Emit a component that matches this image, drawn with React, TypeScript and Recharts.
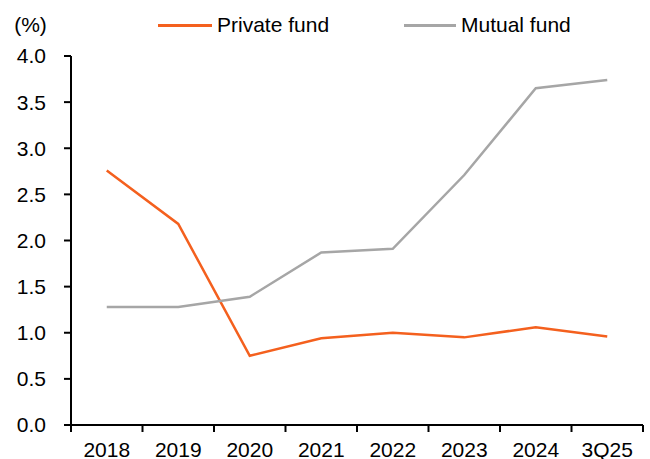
import React from "react";
import { LineChart, Line, XAxis, YAxis, Legend, ReferenceLine } from "recharts";

const categories = ["2018", "2019", "2020", "2021", "2022", "2023", "2024", "3Q25"];
const privateFund = [2.76, 2.18, 0.75, 0.94, 1.0, 0.95, 1.06, 0.96];
const mutualFund = [1.28, 1.28, 1.39, 1.87, 1.91, 2.71, 3.65, 3.74];
const yTicks = [0, 0.5, 1, 1.5, 2, 2.5, 3, 3.5, 4];

const data = categories.map((c, i) => ({
  x: i + 0.5,
  name: c,
  privateFund: privateFund[i],
  mutualFund: mutualFund[i],
}));
const boundaryTicks = categories.map((_, i) => i).concat([categories.length]);
const centerTicks = categories.map((_, i) => i + 0.5);

const FONT = "Arial, 'Liberation Sans', sans-serif";
const FS = 21;
const ORANGE = "#F4601E";
const GRAY = "#A6A6A6";

const LegendContent = () => (
  <div style={{ position: "relative", height: 30, width: 650, fontFamily: FONT, fontSize: FS, color: "#000" }}>
    <div style={{ position: "absolute", left: 158, top: 0, height: 30, display: "flex", alignItems: "center" }}>
      <div style={{ width: 54, height: 3, background: ORANGE, marginRight: 5 }} />
      <span>Private fund</span>
    </div>
    <div style={{ position: "absolute", left: 404, top: 0, height: 30, display: "flex", alignItems: "center" }}>
      <div style={{ width: 52, height: 3, background: GRAY, marginRight: 5 }} />
      <span>Mutual fund</span>
    </div>
  </div>
);

const EmptyTick = () => <g />;

export default function App() {
  return (
    <div style={{ position: "absolute", left: 0, top: 0, width: 650, height: 459, background: "#fff" }}>
      <LineChart width={650} height={459} data={data} margin={{ top: 26, right: 7, left: 0, bottom: 0 }}>
        <Legend
          verticalAlign="top"
          content={<LegendContent />}
          wrapperStyle={{ top: 10, left: 0, width: 650, height: 30 }}
        />
        <XAxis
          xAxisId="a"
          dataKey="x"
          type="number"
          domain={[0, 8]}
          ticks={boundaryTicks}
          tick={<EmptyTick />}
          tickSize={7}
          height={1}
          interval={0}
          stroke="#000"
          axisLine={{ stroke: "#000", strokeWidth: 2 }}
          tickLine={{ stroke: "#000", strokeWidth: 2 }}
        />
        <XAxis
          xAxisId="b"
          dataKey="x"
          type="number"
          domain={[0, 8]}
          ticks={centerTicks}
          interval={0}
          height={33}
          tickSize={0}
          tickMargin={16}
          axisLine={false}
          tickLine={false}
          tickFormatter={(v: number) => categories[Math.floor(v)]}
          tick={{ fill: "#000", fontSize: FS, fontFamily: FONT }}
        />
        <YAxis
          domain={[0, 4]}
          ticks={yTicks}
          interval={0}
          width={71}
          tickSize={7}
          tickMargin={18}
          stroke="#000"
          tickFormatter={(v: number) => v.toFixed(1)}
          tick={{ fill: "#000", fontSize: FS, fontFamily: FONT }}
          axisLine={false}
          tickLine={{ stroke: "#000", strokeWidth: 2 }}
          label={{ value: "(%)", position: "top", offset: 24, dx: -5, fill: "#000", fontSize: FS, fontFamily: FONT }}
        />
        <ReferenceLine xAxisId="a" x={0} stroke="#000" strokeWidth={2} ifOverflow="extendDomain" />
        <Line
          xAxisId="a"
          dataKey="privateFund"
          stroke={ORANGE}
          strokeWidth={2.5}
          dot={false}
          isAnimationActive={false}
        />
        <Line
          xAxisId="a"
          dataKey="mutualFund"
          stroke={GRAY}
          strokeWidth={2.5}
          dot={false}
          isAnimationActive={false}
        />
      </LineChart>
    </div>
  );
}
